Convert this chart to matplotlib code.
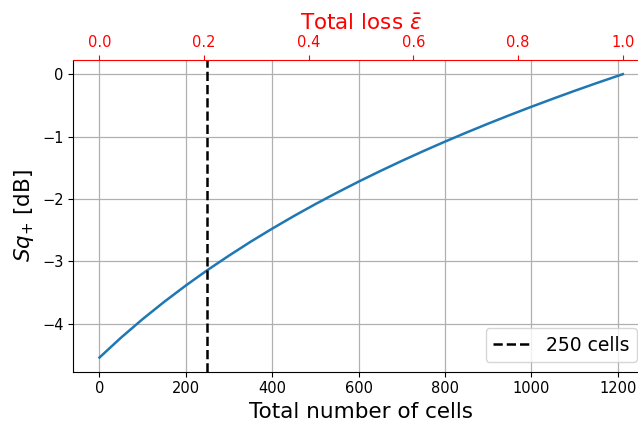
"""
Squeezing level versus number of cells, with the total loss on a twin top axis.
"""
import matplotlib
matplotlib.use("Agg")
import matplotlib.pyplot as plt

# values
cells = [0, 50, 100, 150, 200, 250, 300, 350, 400, 450, 500, 550, 600,
         650, 700, 750, 800, 850, 900, 950, 1000, 1050, 1100, 1150, 1200, 1212]
sq_db = [-4.540, -4.221, -3.924, -3.647, -3.386, -3.139, -2.907, -2.685,
         -2.475, -2.274, -2.082, -1.899, -1.722, -1.553, -1.390, -1.233,
         -1.081, -0.935, -0.793, -0.656, -0.523, -0.394, -0.268, -0.146,
         -0.028, 0.0]
marker_cells = 250
loss_ticks = [0.0, 0.2, 0.4, 0.6, 0.8, 1.0]

W, H = 638, 423
fig = plt.figure(figsize=(W / 100, H / 100), dpi=100)
# axes runs slightly past the right edge, as in the reference crop
ax = fig.add_axes([73.3 / W, (H - 371.7) / H, (649 - 73.3) / W, (371.7 - 60) / H])

ax.plot(cells, sq_db, color="#1f77b4", lw=1.8)
ax.axvline(marker_cells, color="black", ls="--", lw=1.8, label=f"{marker_cells} cells")
ax.grid(True, color="#b0b0b0", lw=0.9)
ax.set_axisbelow(True)

ax.set_xlabel("Total number of cells", fontsize=15.5)
ax.set_ylabel(r"$Sq_{+}$ [dB]", fontsize=15.5)
ax.tick_params(labelsize=10.5)
ax.set_xticks([0, 200, 400, 600, 800, 1000, 1200])
ax.set_yticks([0, -1, -2, -3, -4])
ax.spines["right"].set_visible(False)
ax.spines["top"].set_visible(False)

leg = ax.legend(loc="lower right", fontsize=13.5, borderaxespad=0,
                bbox_to_anchor=(636.5 / W, (H - 362) / H),
                bbox_transform=fig.transFigure)

top = ax.twiny()
top.set_xlim(-0.05, 1.05)
top.set_xticks(loss_ticks)
top.set_xticklabels([f"{t:.1f}" for t in loss_ticks])
top.tick_params(axis="x", colors="red", labelsize=10.5)
top.set_xlabel(r"Total loss $\bar{\varepsilon}$", color="red", fontsize=15.5)
top.spines["top"].set_color("red")
top.spines["right"].set_visible(False)
top.spines["left"].set_visible(False)
top.spines["bottom"].set_visible(False)

fig.savefig("out.png", dpi=100)
